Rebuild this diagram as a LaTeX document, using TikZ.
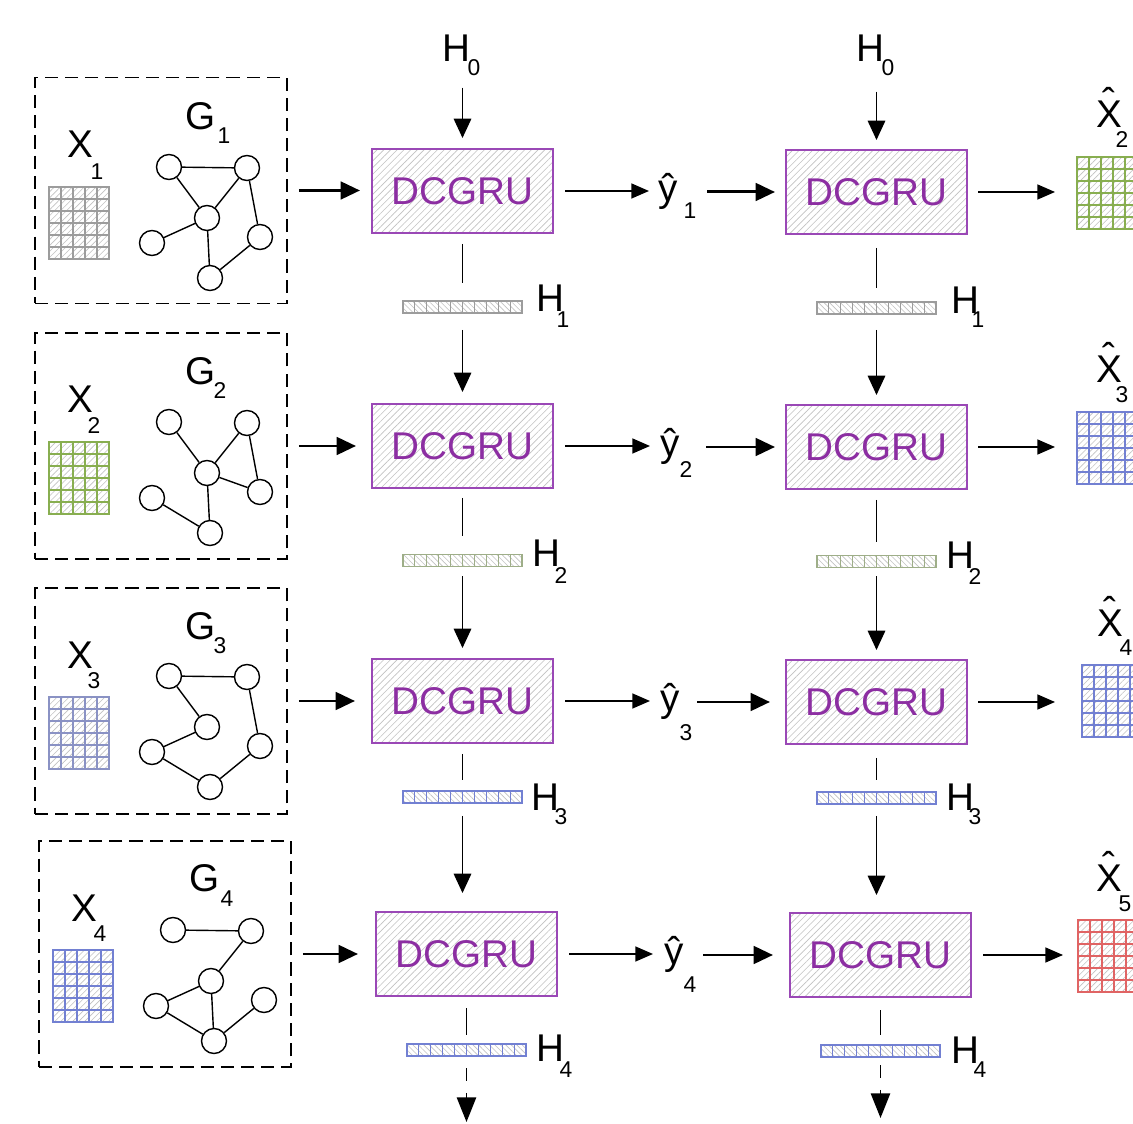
\documentclass[tikz,border=0pt]{standalone}
\usepackage{fontspec}
\setmainfont{Liberation Sans}
\usetikzlibrary{arrows.meta,patterns.meta}

\definecolor{dcpurple}{HTML}{8C2EA2}
\definecolor{dcedge}{HTML}{9A48B6}
\definecolor{hatch}{HTML}{C2C2C2}
\definecolor{cgray}{HTML}{9C9C9C}
\definecolor{cgreen}{HTML}{88AE50}
\definecolor{cgreengray}{HTML}{9EAE88}
\definecolor{cblue}{HTML}{7280D2}
\definecolor{cbluegray}{HTML}{8A92C4}
\definecolor{cred}{HTML}{E06464}

% one pixel of the drawing grid
\newcommand\pxd[1]{#1*0.02cm}
% capital X with a detached circumflex above it
\newcommand\xhat{\leavevmode\vbox{\offinterlineskip\halign{\hfil##\hfil\cr
  \raisebox{0pt}[0.12em][0pt]{ˆ}\cr\noalign{\kern-0.38em}X\cr}}}

\tikzset{
  lbl/.style={inner sep=0pt, font=\fontsize{22}{26}\selectfont},
  sublbl/.style={inner sep=0pt, font=\fontsize{13}{15}\selectfont},
  inbox/.style={draw, line width=1.1pt, dash pattern=on 7.5pt off 4pt,
    minimum width=\pxd{252}, minimum height=\pxd{226}, inner sep=0pt},
  dcgru/.style={draw=dcedge, line width=0.8pt,
    pattern={Lines[angle=45,distance=2.7pt,line width=0.35pt]}, pattern color=hatch,
    minimum width=\pxd{181}, minimum height=\pxd{84}, inner sep=0pt, outer sep=0pt,
    text=dcpurple, font=\fontsize{22}{26}\selectfont},
  gridbox/.style={inner sep=0pt, outer sep=0pt, line width=0.6pt,
    minimum width=\pxd{60}, minimum height=\pxd{72},
    pattern={Lines[angle=45,distance=2.4pt,line width=0.35pt]}, pattern color=hatch},
  gline/.style={line width=0.6pt},
  hbox/.style={inner sep=0pt, outer sep=0pt, line width=0.6pt,
    minimum width=\pxd{119}, minimum height=\pxd{12},
    pattern={Lines[angle=-45,distance=2.2pt,line width=0.35pt]}, pattern color=hatch},
  gnode/.style={circle, draw, line width=0.8pt, minimum size=\pxd{25}, inner sep=0pt},
  gedge/.style={line width=0.8pt},
  thinarr/.style={line width=0.8pt, -{Triangle[length=10pt,width=8.5pt]}},
  thickarr/.style={line width=1.7pt, -{Triangle[length=11pt,width=10pt]}},
  downarr/.style={line width=0.8pt, -{Triangle[length=11pt,width=10pt]}},
  dasharr/.style={line width=0.9pt, dash pattern=on 7.4pt off 6.8pt,
    -{Triangle[length=14pt,width=11pt]}},
  plainline/.style={line width=0.8pt},
  sh/.style 2 args={shorten <=\pxd{#1}, shorten >=\pxd{#2}}
}

% hatched matrix of 5 x 6 cells: name, left, top, colour
\newcommand\cellgrid[4]{%
  \node[gridbox, draw=#4, anchor=north west] (#1) at (#2,#3) {};
  \foreach \i in {1,...,4} {\draw[gline, #4] (#1.north west) ++(\i*12,0) -- ++(0,72);}
  \foreach \j in {1,...,5} {\draw[gline, #4] (#1.north west) ++(0,\j*12) -- ++(60,0);}
}
% hidden-state vector of 10 cells: name, centre x, centre y, colour
\newcommand\hvec[4]{%
  \node[hbox, draw=#4] (#1) at (#2,#3) {};
  \foreach \k in {1,...,9} {\draw[gline, #4] (#1.south west) ++(\k*11.9,0) -- ++(0,-12);}
}
% six graph vertices of one input panel: row, dx, dy
\newcommand\graphrow[3]{%
  \begin{scope}[shift={(#2,#3)}]
    \node[gnode] (g#1a) at (169,167) {};
    \node[gnode] (g#1b) at (247,168) {};
    \node[gnode] (g#1c) at (207,218) {};
    \node[gnode] (g#1d) at (152,243) {};
    \node[gnode] (g#1e) at (260,237) {};
    \node[gnode] (g#1f) at (210,278) {};
  \end{scope}}

\begin{document}
\begin{tikzpicture}[x=0.02cm, y=-0.02cm]
\fill[white] (0,0) rectangle (1133,1124);
\useasboundingbox (0,0) rectangle (1133,1124);

% ---------------- input panels ----------------
\node[inbox] (in1) at (161,190.5) {};
\node[inbox] (in2) at (161,446) {};
\node[inbox] (in3) at (161,701) {};
\node[inbox] (in4) at (165,954) {};

\node[lbl] (lx1) at (80,144) {X};  \node[sublbl] (lx1s) at (97,172) {1};
\node[lbl] (lx2) at (80,399) {X};  \node[sublbl] (lx2s) at (94,426) {2};
\node[lbl] (lx3) at (80,655) {X};  \node[sublbl] (lx3s) at (94,681) {3};
\node[lbl] (lx4) at (84,908) {X};  \node[sublbl] (lx4s) at (100,934) {4};

\node[lbl] (lg1) at (201,116) {G};  \node[sublbl] (lg1s) at (224,136) {1};
\node[lbl] (lg2) at (201,371) {G};  \node[sublbl] (lg2s) at (220,391) {2};
\node[lbl] (lg3) at (201,626) {G};  \node[sublbl] (lg3s) at (220,646) {3};
\node[lbl] (lg4) at (205,878) {G};  \node[sublbl] (lg4s) at (227,899) {4};

\cellgrid{xg1}{49}{187}{cgray}
\cellgrid{xg2}{49}{442}{cgreen}
\cellgrid{xg3}{49}{697}{cbluegray}
\cellgrid{xg4}{53}{950}{cblue}

\graphrow{1}{0}{0}
\graphrow{2}{0}{255}
\graphrow{3}{0}{509}
\graphrow{4}{4}{763}

\draw[gedge] (g1a) -- (g1b) (g1a) -- (g1c) (g1b) -- (g1c) (g1b) -- (g1e)
             (g1c) -- (g1d) (g1c) -- (g1f) (g1e) -- (g1f);
\draw[gedge] (g2a) -- (g2c) (g2b) -- (g2c) (g2b) -- (g2e) (g2c) -- (g2e)
             (g2d) -- (g2f) (g2c) -- (g2f);
\draw[gedge] (g3a) -- (g3b) (g3a) -- (g3c) (g3b) -- (g3e) (g3c) -- (g3d)
             (g3d) -- (g3f) (g3e) -- (g3f);
\draw[gedge] (g4a) -- (g4b) (g4b) -- (g4c) (g4c) -- (g4d) (g4c) -- (g4f)
             (g4d) -- (g4f) (g4e) -- (g4f);

% ---------------- encoder / decoder cells ----------------
\node[dcgru] (a1) at (462.5,191) {DCGRU};
\node[dcgru] (a2) at (462.5,446) {DCGRU};
\node[dcgru] (a3) at (462.5,701) {DCGRU};
\node[dcgru] (a4) at (466.5,954) {DCGRU};
\node[dcgru] (b1) at (876.5,192) {DCGRU};
\node[dcgru] (b2) at (876.5,447) {DCGRU};
\node[dcgru] (b3) at (876.5,702) {DCGRU};
\node[dcgru] (b4) at (880.5,955) {DCGRU};

\node[lbl] (h0a) at (456,48) {H};  \node[sublbl] (h0as) at (474,68) {0};
\node[lbl] (h0b) at (870,48) {H};  \node[sublbl] (h0bs) at (888,68) {0};

% hidden states
\hvec{ha1}{462.5}{307}{cgray}
\hvec{ha2}{462.5}{560.5}{cgreengray}
\hvec{ha3}{462.5}{797}{cblue}
\hvec{ha4}{466.5}{1050}{cblue}
\hvec{hb1}{876.5}{308}{cgray}
\hvec{hb2}{876.5}{561.5}{cgreengray}
\hvec{hb3}{876.5}{798}{cblue}
\hvec{hb4}{880.5}{1051}{cblue}

\node[lbl] (lha1) at (550,298) {H};   \node[sublbl] (lha1s) at (563,320) {1};
\node[lbl] (lha2) at (546,553) {H};   \node[sublbl] (lha2s) at (561,576) {2};
\node[lbl] (lha3) at (545,797) {H};   \node[sublbl] (lha3s) at (561,817) {3};
\node[lbl] (lha4) at (550,1048) {H};  \node[sublbl] (lha4s) at (566,1070) {4};
\node[lbl] (lhb1) at (965,300) {H};   \node[sublbl] (lhb1s) at (978,320) {1};
\node[lbl] (lhb2) at (960,555) {H};   \node[sublbl] (lhb2s) at (975,577) {2};
\node[lbl] (lhb3) at (960,797) {H};   \node[sublbl] (lhb3s) at (975,817) {3};
\node[lbl] (lhb4) at (965,1050) {H};  \node[sublbl] (lhb4s) at (980,1070) {4};

% predictions between the two columns
\node[lbl] (y1) at (668,191) {ŷ};  \node[sublbl] (y1s) at (690,211) {1};
\node[lbl] (y2) at (670,446) {ŷ};  \node[sublbl] (y2s) at (686,470) {2};
\node[lbl] (y3) at (670,701) {ŷ};  \node[sublbl] (y3s) at (686,733) {3};
\node[lbl] (y4) at (674,954) {ŷ};  \node[sublbl] (y4s) at (690,985) {4};

% predicted outputs, cut at the right edge
\begin{scope}
\clip (1040,0) rectangle (1133,1124);
\cellgrid{o1}{1077}{157}{cgreen}
\cellgrid{o2}{1077}{412}{cblue}
\cellgrid{o3}{1082}{665}{cblue}
\cellgrid{o4}{1078}{920}{cred}
\end{scope}
\node[lbl, anchor=south] (lo1) at (1109,128) {\xhat};  \node[sublbl] (lo1s) at (1122,140) {2};
\node[lbl, anchor=south] (lo2) at (1109,383) {\xhat};  \node[sublbl] (lo2s) at (1122,395) {3};
\node[lbl, anchor=south] (lo3) at (1110,637) {\xhat};  \node[sublbl] (lo3s) at (1126,648) {4};
\node[lbl, anchor=south] (lo4) at (1109,892) {\xhat};  \node[sublbl] (lo4s) at (1125,904) {5};

% ---------------- horizontal connectors ----------------
\draw[thickarr, sh={11}{12}] (in1.east) -- (in1.east -| a1.west);
\draw[thickarr, sh={11}{16}] (in2.east) -- (in2.east -| a2.west);
\draw[thickarr, sh={11}{17}] (in3.east) -- (in3.east -| a3.west);
\draw[thickarr, sh={11}{18}] (in4.east) -- (in4.east -| a4.west);

\draw[thinarr, sh={12}{9}]  (a1.east) -- (a1.east -| y1.west);
\draw[thinarr, sh={12}{10}] (a2.east) -- (a2.east -| y2.west);
\draw[thinarr, sh={12}{10}] (a3.east) -- (a3.east -| y3.west);
\draw[thinarr, sh={12}{11}] (a4.east) -- (a4.east -| y4.west);

\draw[thickarr, sh={29}{11}] (y1.east |- b1.west) -- (b1.west);
\draw[thickarr, sh={26}{11}] (y2.east |- b2.west) -- (b2.west);
\draw[thickarr, sh={17}{16}] (y3.east |- b3.west) -- (b3.west);
\draw[thickarr, sh={19}{17}] (y4.east |- b4.west) -- (b4.west);

\draw[thinarr, sh={11}{22}] (b1.east) -- (b1.east -| o1.west);
\draw[thinarr, sh={11}{22}] (b2.east) -- (b2.east -| o2.west);
\draw[thinarr, sh={11}{27}] (b3.east) -- (b3.east -| o3.west);
\draw[thinarr, sh={12}{15}] (b4.east) -- (b4.east -| o4.west);

% ---------------- vertical connectors ----------------
\draw[downarr, sh={26}{11}] (a1.north |- h0a.south) -- (a1.north);
\draw[downarr, sh={30}{10}] (b1.north |- h0b.south) -- (b1.north);

\draw[plainline, sh={11}{18}] (a1.south) -- (ha1.north);
\draw[downarr,   sh={17}{12}] (ha1.south) -- (a2.north);
\draw[plainline, sh={10}{18}] (a2.south) -- (ha2.north);
\draw[downarr,   sh={10}{11}] (ha2.south) -- (a3.north);
\draw[plainline, sh={11}{11}] (a3.south) -- (ha3.north);
\draw[downarr,   sh={13}{19}] (ha3.south) -- (ha3.south |- a4.north);
\draw[plainline, sh={12}{9}]  (a4.south) -- (ha4.north);

\draw[plainline, sh={14}{14}] (b1.south) -- (hb1.north);
\draw[downarr,   sh={16}{10}] (hb1.south) -- (b2.north);
\draw[plainline, sh={11}{13}] (b2.south) -- (hb2.north);
\draw[downarr,   sh={9}{10}]  (hb2.south) -- (b3.north);
\draw[plainline, sh={14}{12}] (b3.south) -- (hb3.north);
\draw[downarr,   sh={12}{18}] (hb3.south) -- (hb3.south |- b4.north);
\draw[plainline, sh={13}{10}] (b4.south) -- (hb4.north);

\coordinate (enda) at (466.5,1122);
\coordinate (endb) at (880.5,1118);
\draw[dasharr, sh={12}{0}] (ha4.south) -- (ha4.south |- enda);
\draw[dasharr, sh={8}{0}]  (hb4.south) -- (hb4.south |- endb);
\end{tikzpicture}
\end{document}
